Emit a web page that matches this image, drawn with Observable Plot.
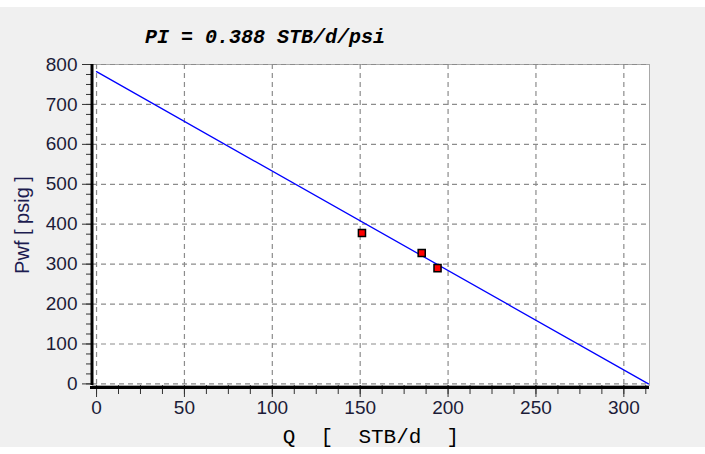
<!DOCTYPE html>
<html><head><meta charset="utf-8">
<script src="https://cdn.jsdelivr.net/npm/d3@7"></script>
<script src="https://cdn.jsdelivr.net/npm/@observablehq/plot@0.6"></script>
<style>
html,body{margin:0;padding:0;background:#fff;}
#wrap{position:relative;width:705px;height:454px;overflow:hidden;}
#band{position:absolute;left:0;top:7px;width:705px;height:440px;background:#f0f0f0;}
#chart{position:absolute;left:0;top:0;}
#title{position:absolute;left:0;width:530px;top:27px;text-align:center;font:italic bold 20px "Liberation Mono","DejaVu Sans Mono",monospace;line-height:22px;color:#000;white-space:pre;}
#bottom{position:absolute;left:0;top:447px;width:705px;height:7px;background:#fff;}
</style></head>
<body>
<div id="wrap"><div id="band"></div><div id="chart"></div><div id="title"></div><div id="bottom"></div></div>
<script>
// Chart data
const titleText = "PI = 0.388 STB/d/psi";
const xLabel = "Q  [  STB/d  ]";
const yLabel = "Pwf [ psig ]";
const xTicks = [0, 50, 100, 150, 200, 250, 300];
const yTicks = [0, 100, 200, 300, 400, 500, 600, 700, 800];
const iprQ = [0, 314];
const iprPwf = [782, 0];
const testQ = [151, 185, 194];
const testPwf = [378, 328, 290];

const xDomain = [-2.3, 314.6];
const yDomain = [-4, 800];
const xMinor = d3.range(0, 314, 12.5);
const yMinor = d3.range(0, 801, 25);

const ipr = iprQ.map((q, i) => ({q, p: iprPwf[i]}));
const tests = testQ.map((q, i) => ({q, p: testPwf[i]}));

document.getElementById("title").textContent = titleText;

const tickColor = "#1c1c38";
const chart = Plot.plot({
  width: 705,
  height: 454,
  marginLeft: 92,
  marginRight: 56,
  marginTop: 64,
  marginBottom: 69,
  style: {background: "transparent", fontFamily: "'Liberation Sans', Arial, sans-serif", overflow: "visible"},
  x: {domain: xDomain},
  y: {domain: yDomain},
  marks: [
    Plot.frame({fill: "white", stroke: "#a8a8a8"}),
    Plot.gridX(xTicks, {stroke: "#8c8c8c", strokeOpacity: 1, strokeWidth: 1.2, strokeDasharray: "5,4"}),
    Plot.gridY(yTicks, {stroke: "#8c8c8c", strokeOpacity: 1, strokeWidth: 1.2, strokeDasharray: "5,4"}),
    Plot.line(ipr, {x: "q", y: "p", stroke: "#0000ff", strokeWidth: 1.3}),
    Plot.dot(tests, {x: "q", y: "p", symbol: "square", r: 4, fill: "#ff0000", stroke: "#000", strokeWidth: 1.5}),
    Plot.axisX(xMinor, {tickSize: 9, text: null, stroke: "#333", label: null}),
    Plot.axisX(xTicks, {tickSize: 12, tickPadding: 3, fontSize: 19, fill: tickColor, stroke: "#333", label: null}),
    Plot.axisY(yMinor, {tickSize: 6, text: null, stroke: "#333", label: null}),
    Plot.axisY(yTicks, {tickSize: 10, tickPadding: 5, fontSize: 19, fill: tickColor, stroke: "#333", label: null}),
    Plot.ruleX([xDomain[0]], {stroke: "#000", strokeWidth: 3, dx: -0.5}),
    Plot.ruleY([yDomain[0]], {stroke: "#000", strokeWidth: 3, dy: 2, insetLeft: -2}),
    Plot.text([yLabel], {frameAnchor: "left", textAnchor: "middle", dx: -70, rotate: -90, fontSize: 20, fill: "#1c1c50"}),
    Plot.text([xLabel], {frameAnchor: "bottom", textAnchor: "middle", dy: 57, fontSize: 21, fontFamily: "'Liberation Mono', monospace", fill: "#000"})
  ]
});
document.getElementById("chart").appendChild(chart);
</script>
</body></html>
